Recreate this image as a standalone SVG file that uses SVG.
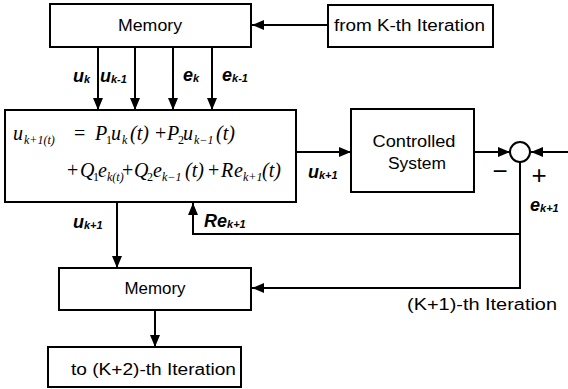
<svg xmlns="http://www.w3.org/2000/svg" width="568" height="389" viewBox="0 0 568 389">
<style>
.box{fill:#fff;stroke:#000;stroke-width:2}
.ln{fill:none;stroke:#000;stroke-width:2}
.t{font-family:"Liberation Sans",Arial,sans-serif;font-size:16px;fill:#000}
.lb{font-family:"Liberation Sans",Arial,sans-serif;font-size:18px;font-weight:bold;font-style:italic;fill:#000}
.lb .s{font-size:11px}
.eq{font-family:"Liberation Serif","Times New Roman",serif;font-size:20px;font-style:italic;fill:#000}
.eq .s{font-size:12px}
.eq .up{font-style:normal}
.sg{font-family:"Liberation Sans",Arial,sans-serif;font-size:26px;fill:#000}
</style>
<defs>
<marker id="ah" markerUnits="userSpaceOnUse" markerWidth="13" markerHeight="11" refX="12" refY="5" orient="auto">
<path d="M0,0 L12,5 L0,10 z" fill="#000"/>
</marker>
</defs>

<g id="connectors">
<line class="ln" x1="328" y1="25" x2="252" y2="25" marker-end="url(#ah)"/>
<line class="ln" x1="98" y1="47" x2="98" y2="110" marker-end="url(#ah)"/>
<line class="ln" x1="135" y1="47" x2="135" y2="110" marker-end="url(#ah)"/>
<line class="ln" x1="173" y1="47" x2="173" y2="110" marker-end="url(#ah)"/>
<line class="ln" x1="212" y1="47" x2="212" y2="110" marker-end="url(#ah)"/>
<line class="ln" x1="296" y1="152" x2="351" y2="152" marker-end="url(#ah)"/>
<line class="ln" x1="474" y1="152" x2="510" y2="152" marker-end="url(#ah)"/>
<line class="ln" x1="568" y1="152" x2="531" y2="152" marker-end="url(#ah)"/>
<polyline class="ln" points="520,162 520,288 252,288" marker-end="url(#ah)"/>
<polyline class="ln" points="520,234 193,234 193,203" marker-end="url(#ah)"/>
<line class="ln" x1="117" y1="202" x2="117" y2="268" marker-end="url(#ah)"/>
<line class="ln" x1="155" y1="310" x2="155" y2="347" marker-end="url(#ah)"/>
<text class="lb" x="73" y="82">u<tspan class="s" dy="1">k</tspan></text>
<text class="lb" x="100" y="82">u<tspan class="s" dy="1">k-1</tspan></text>
<text class="lb" x="183" y="81">e<tspan class="s" dy="1">k</tspan></text>
<text class="lb" x="222" y="81">e<tspan class="s" dy="1">k-1</tspan></text>
<text class="lb" x="308" y="178">u<tspan class="s" dy="1">k+1</tspan></text>
<text class="lb" x="530" y="211">e<tspan class="s" dy="1">k+1</tspan></text>
<text class="lb" x="73" y="228">u<tspan class="s" dy="1">k+1</tspan></text>
<text class="lb" x="204" y="227">Re<tspan class="s" dy="1">k+1</tspan></text>
<text class="sg" x="500" y="180" text-anchor="middle">−</text>
<text class="sg" x="539" y="184" text-anchor="middle">+</text>
<text class="t" x="407" y="310" textLength="150" lengthAdjust="spacingAndGlyphs">(K+1)-th Iteration</text>
</g>

<g id="memory-top">
<rect class="box" x="50" y="4" width="201" height="43"/>
<text class="t" x="150" y="31" text-anchor="middle" textLength="64" lengthAdjust="spacingAndGlyphs">Memory</text>
</g>

<g id="from-k">
<rect class="box" x="328" y="5" width="165" height="42"/>
<text class="t" x="334" y="31" textLength="151" lengthAdjust="spacingAndGlyphs">from K-th Iteration</text>
</g>

<g id="law">
<rect class="box" x="5" y="110" width="291" height="92"/>
<text class="eq">
<tspan x="13" y="140">u</tspan><tspan class="s" x="24" y="144">k+1(t)</tspan>
<tspan class="up" x="74" y="140">=</tspan>
<tspan x="95" y="140">P</tspan><tspan class="s up" x="106" y="144">1</tspan>
<tspan x="111" y="140">u</tspan><tspan class="s" x="122" y="144">k</tspan>
<tspan x="130" y="140">(t)</tspan>
<tspan class="up" x="155" y="140">+</tspan>
<tspan x="167" y="140">P</tspan><tspan class="s up" x="178" y="144">2</tspan>
<tspan x="183" y="140">u</tspan><tspan class="s" x="194" y="144">k−1</tspan>
<tspan x="216" y="140">(t)</tspan>
</text>
<text class="eq">
<tspan class="up" x="67" y="177">+</tspan>
<tspan x="80" y="177">Q</tspan><tspan class="s up" x="93" y="181">1</tspan>
<tspan x="98" y="177">e</tspan><tspan class="s" x="107" y="181">k(t)</tspan>
<tspan class="up" x="122" y="177">+</tspan>
<tspan x="134" y="177">Q</tspan><tspan class="s up" x="147" y="181">2</tspan>
<tspan x="153" y="177">e</tspan><tspan class="s" x="162" y="181">k−1</tspan>
<tspan x="185" y="177">(t)</tspan>
<tspan class="up" x="208" y="177">+</tspan>
<tspan x="221" y="177">R</tspan>
<tspan x="234" y="177">e</tspan><tspan class="s" x="243" y="181">k+1</tspan>
<tspan x="262" y="177">(t)</tspan>
</text>
</g>

<g id="plant">
<rect class="box" x="351" y="109" width="123" height="83"/>
<text class="t" x="414" y="147" text-anchor="middle" textLength="83" lengthAdjust="spacingAndGlyphs">Controlled</text>
<text class="t" x="417" y="169" text-anchor="middle" textLength="58" lengthAdjust="spacingAndGlyphs">System</text>
</g>

<g id="sum">
<circle cx="520" cy="152" r="10" fill="#fff" stroke="#000" stroke-width="2"/>
</g>

<g id="memory-bottom">
<rect class="box" x="59" y="268" width="192" height="42"/>
<text class="t" x="155" y="294" text-anchor="middle" textLength="61" lengthAdjust="spacingAndGlyphs">Memory</text>
</g>

<g id="to-k2">
<rect class="box" x="48" y="347" width="193" height="40"/>
<text class="t" x="71" y="375" textLength="165" lengthAdjust="spacingAndGlyphs">to (K+2)-th Iteration</text>
</g>
</svg>
